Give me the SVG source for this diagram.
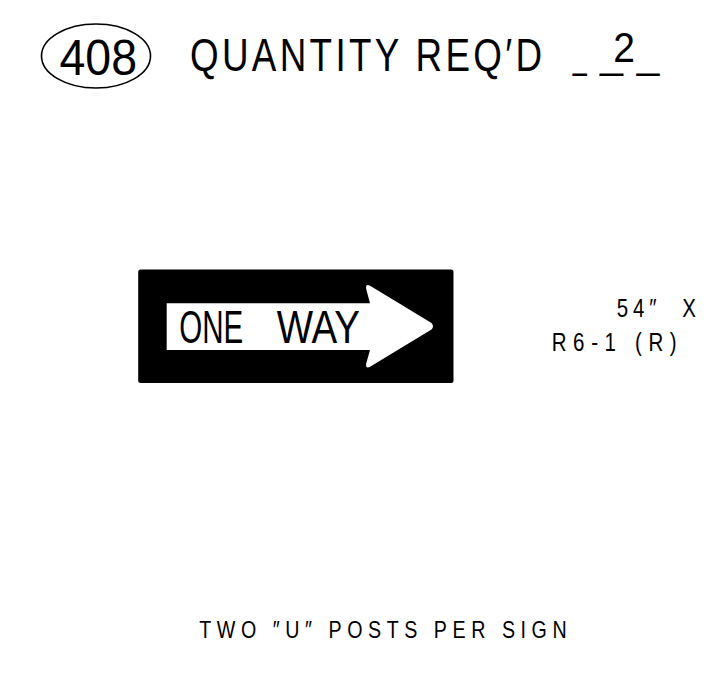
<svg xmlns="http://www.w3.org/2000/svg" width="719" height="676" viewBox="0 0 719 676">
<style>
.t{font-family:"Liberation Sans","Arial",sans-serif;fill:#000;}
</style>
<rect width="719" height="676" fill="#fff"/>
<g id="header">
<ellipse cx="96" cy="56" rx="54.5" ry="32" fill="none" stroke="#000" stroke-width="1.6"/>
<text class="t" x="59.5" y="74.5" font-size="49.5" textLength="77.5" lengthAdjust="spacingAndGlyphs">408</text>
<text class="t" transform="scale(0.8,1)" x="237.5" y="71" font-size="46" textLength="440" lengthAdjust="spacing">QUANTITY REQ′D</text>
<text class="t" font-size="40"><tspan x="572.7" y="67.5" textLength="14" lengthAdjust="spacingAndGlyphs">_</tspan><tspan x="600" y="67.5" textLength="23" lengthAdjust="spacingAndGlyphs">_</tspan><tspan x="613.3" y="62" font-size="43" textLength="21.7" lengthAdjust="spacingAndGlyphs">2</tspan><tspan x="636.7" y="67.5" textLength="22.6" lengthAdjust="spacingAndGlyphs">_</tspan></text>
</g>
<g id="sign">
<rect x="138.2" y="269.5" width="315.3" height="113.5" rx="2.5" fill="#000"/>
<path d="M166.7,303.3 H370 L366.2,289 Q365.2,283.2 370.5,286 L431.5,323 Q434.5,326.3 431.5,329.6 L370.5,366.5 Q365.2,369.5 366.2,363.5 L370,350 H166.7 Z" fill="#fff"/>
<text class="t" y="343.3" font-size="46.5"><tspan x="179.3" textLength="64" lengthAdjust="spacingAndGlyphs">ONE</tspan> <tspan x="276.7" textLength="83.3" lengthAdjust="spacingAndGlyphs">WAY</tspan></text>
</g>
<g id="size-label">
<text class="t" transform="scale(0.82,1)" x="752.1" y="317.5" font-size="25" textLength="96.7" lengthAdjust="spacing" xml:space="preserve">54″  X</text>
<text class="t" transform="scale(0.82,1)" x="672.8" y="351" font-size="25" textLength="152.4" lengthAdjust="spacing" xml:space="preserve">R6-1 (R)</text>
</g>
<g id="note">
<text class="t" transform="scale(0.82,1)" x="243" y="638" font-size="24" textLength="448" lengthAdjust="spacing">TWO ″U″ POSTS PER SIGN</text>
</g>
<g id="connectors"/>
</svg>
